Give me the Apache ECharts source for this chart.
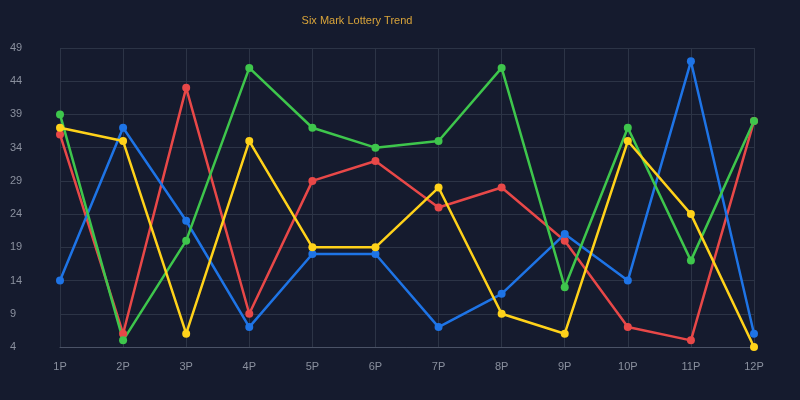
<!DOCTYPE html>
<html><head><meta charset="utf-8">
<script src="https://cdn.jsdelivr.net/npm/echarts@6/dist/echarts.min.js"></script>
<style>html,body{margin:0;background:#151b2e}#c{width:800px;height:400px}</style>
</head><body><div id="c"></div>
<script>
const categories=['1P','2P','3P','4P','5P','6P','7P','8P','9P','10P','11P','12P'];
const red=[36,6,43,9,29,32,25,28,20,7,5,38];
const blue=[14,37,23,7,18,18,7,12,21,14,47,6];
const green=[39,5,20,46,37,34,35,46,13,37,17,38];
const yellow=[37,35,6,35,19,19,28,9,6,35,24,4];
const mk=(name,data,color)=>({name,type:'line',data,symbol:'circle',symbolSize:8,
  itemStyle:{color},lineStyle:{color,width:2.5}});
echarts.init(document.getElementById('c')).setOption({
  backgroundColor:'#151b2e',
  title:{text:'Six Mark Lottery Trend',left:352,top:10,textAlign:'center',
    textStyle:{color:'#d9a43a',fontSize:11,fontWeight:'normal'}},
  grid:{left:60,right:46,top:48,bottom:53},
  xAxis:{type:'category',data:categories,boundaryGap:false,
    axisLine:{lineStyle:{color:'#4a5266'}},axisTick:{show:false},
    splitLine:{show:true,lineStyle:{color:'#2c3446'}},
    axisLabel:{color:'#8a909e',fontSize:11,margin:14}},
  yAxis:{type:'value',min:4,max:49,interval:5,
    axisLine:{show:false},axisTick:{show:false},
    splitLine:{lineStyle:{color:'#2c3446'}},
    axisLabel:{color:'#8a909e',fontSize:11,align:'left',margin:50}},
  series:[mk('R',red,'#e84848'),mk('B',blue,'#1e74e6'),mk('G',green,'#3ec64c'),mk('Y',yellow,'#ffd21a')]
});
</script></body></html>
